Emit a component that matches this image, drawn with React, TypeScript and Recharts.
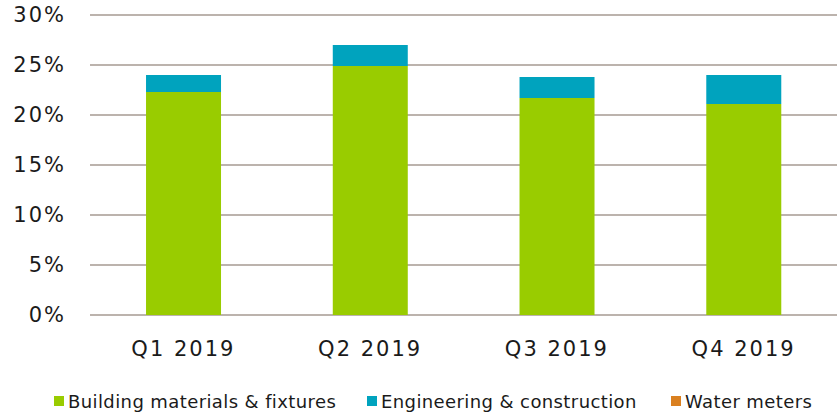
import { BarChart, Bar, XAxis, YAxis, CartesianGrid } from "recharts";

const quarters = ["Q1 2019", "Q2 2019", "Q3 2019", "Q4 2019"];
const buildingMaterials = [22.3, 24.9, 21.7, 21.1];
const engineering = [1.7, 2.1, 2.1, 2.9];
const waterMeters = [0, 0, 0, 0];
const yTicks = [0, 5, 10, 15, 20, 25, 30];

const GREEN = "#99cc00";
const CYAN = "#00a3be";
const ORANGE = "#da8020";
const GRID = "#bcb3ad";

const data = quarters.map((q, i) => ({
  quarter: q,
  building: buildingMaterials[i],
  engineering: engineering[i],
  water: waterMeters[i],
}));

const legendItems = [
  { label: "Building materials & fixtures", color: GREEN, left: 54 },
  { label: "Engineering & construction", color: CYAN, left: 367 },
  { label: "Water meters", color: ORANGE, left: 671 },
];

function LegendRow() {
  return (
    <div style={{ position: "absolute", left: 0, top: 389, height: 24, width: 837 }}>
      {legendItems.map((it) => (
        <div
          key={it.label}
          style={{
            position: "absolute",
            left: it.left,
            top: 0,
            display: "flex",
            alignItems: "center",
            whiteSpace: "nowrap",
            height: 24,
          }}
        >
          <span style={{ width: 10, height: 10, background: it.color, display: "inline-block", marginRight: 4 }} />
          <span
            style={{
              fontFamily: "'DejaVu Sans', Verdana, sans-serif",
              fontSize: 18,
              letterSpacing: 0.4,
              color: "#1a1a1a",
            }}
          >
            {it.label}
          </span>
        </div>
      ))}
    </div>
  );
}

const tickStyle = {
  fontFamily: "'DejaVu Sans', Verdana, sans-serif",
  fontSize: 21,
  letterSpacing: 2,
  fill: "#1a1a1a",
};

export default function App() {
  return (
    <div style={{ position: "absolute", left: 0, top: 0, width: 837, height: 413, background: "#fff" }}>
      <BarChart
        width={837}
        height={413}
        data={data}
        margin={{ top: 15, right: 0, left: 0, bottom: 48 }}
        barCategoryGap="30%"
      >
        <CartesianGrid vertical={false} stroke={GRID} strokeWidth={2} />
        <XAxis
          dataKey="quarter"
          axisLine={false}
          tickLine={false}
          tick={tickStyle}
          tickMargin={20}
          height={50}
        />
        <YAxis
          domain={[0, 30]}
          ticks={yTicks}
          tickFormatter={(v) => `${v}%`}
          axisLine={false}
          tickLine={false}
          tick={tickStyle}
          tickMargin={18}
          width={90}
        />
        <Bar dataKey="building" name="Building materials & fixtures" stackId="a" fill={GREEN} isAnimationActive={false} />
        <Bar dataKey="engineering" name="Engineering & construction" stackId="a" fill={CYAN} isAnimationActive={false} />
        <Bar dataKey="water" name="Water meters" stackId="a" fill={ORANGE} isAnimationActive={false} />
      </BarChart>
      <LegendRow />
    </div>
  );
}
